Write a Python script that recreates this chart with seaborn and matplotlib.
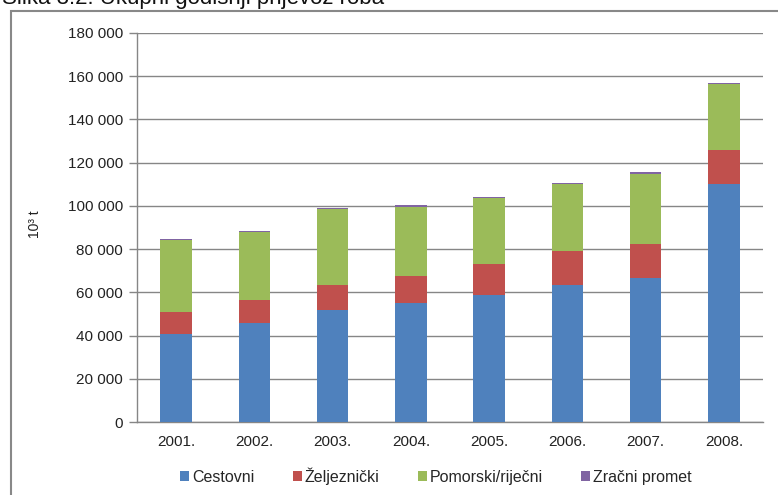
import pandas as pd
import numpy as np
import matplotlib.pyplot as plt
import seaborn as sns
from matplotlib.patches import Rectangle, Patch

# Data (10^3 t)
years = ["2001.", "2002.", "2003.", "2004.", "2005.", "2006.", "2007.", "2008."]
cestovni = [40700, 45700, 52000, 55100, 58600, 63200, 66600, 110300]
zeljeznicki = [10200, 10800, 11400, 12500, 14450, 15850, 15700, 15400]
pomorski = [33500, 31600, 35200, 32100, 30450, 31250, 32650, 30750]
zracni = [400, 400, 500, 650, 500, 500, 500, 500]

series_names = ["Cestovni", "Željeznički", "Pomorski/riječni", "Zračni promet"]
colors = ["#4F81BD", "#C0504D", "#9BBB59", "#8064A2"]

df = pd.DataFrame({"year": years, "Cestovni": cestovni, "Željeznički": zeljeznicki,
                   "Pomorski/riječni": pomorski, "Zračni promet": zracni})
cum = df[series_names].cumsum(axis=1)
cum["year"] = df["year"]

sns.set_theme(style="white")
plt.rcParams["font.family"] = ["Liberation Sans", "DejaVu Sans"]

fig = plt.figure(figsize=(7.78, 4.95), dpi=100)
ax = fig.add_axes([137 / 778, 73 / 495, 626 / 778, 389 / 495])

# stacked bars: draw cumulative totals from top layer down
for name, col in reversed(list(zip(series_names, colors))):
    sns.barplot(data=cum, x="year", y=name, color=col, width=0.4,
                saturation=1, order=years, ax=ax, zorder=3, linewidth=0)

ax.set_ylim(0, 180000)
ax.set_xlim(-0.5, len(years) - 0.5)
yt = np.arange(0, 180001, 20000)
ax.set_yticks(yt)
ax.set_yticklabels([f"{v:,}".replace(",", " ") for v in yt], fontsize=11, color="#222222")
ax.set_xticks(range(len(years)))
ax.set_xticklabels(years, fontsize=11, color="#222222")
ax.set_xticks(np.arange(-0.5, len(years), 1), minor=True)
ax.tick_params(axis="x", which="major", length=0, pad=9)
ax.tick_params(axis="x", which="minor", length=5, color="#868686", width=1)
ax.tick_params(axis="y", length=6, color="#868686", width=1, left=True, pad=4)
ax.yaxis.grid(True, color="#868686", linewidth=1, zorder=0)
ax.set_axisbelow(True)
for s in ["top", "right"]:
    ax.spines[s].set_visible(False)
for s in ["left", "bottom"]:
    ax.spines[s].set_color("#868686")
    ax.spines[s].set_linewidth(1)
ax.set_xlabel("")
ax.set_ylabel("")

fig.text(35 / 778, 1 - 224 / 495, "10³ t", rotation=90, fontsize=10,
         ha="center", va="center", color="#222222")

handles = [Patch(facecolor=c, edgecolor="none") for c in colors]
fig.legend(handles, series_names, loc="center", bbox_to_anchor=(436 / 778, 1 - 476 / 495),
           ncol=4, frameon=False, fontsize=11.5, handlelength=0.55, handleheight=0.55,
           handletextpad=0.2, columnspacing=2.4)

# outer frame and cut-off caption
fig.patches.append(Rectangle((11 / 778, -0.1), 1.2, 1 - 11 / 495 + 0.1,
                             transform=fig.transFigure, fill=False,
                             edgecolor="#888888", linewidth=1.5))
fig.text(2 / 778, 1 - 4 / 495, "Slika 3.2: Ukupni godišnji prijevoz roba",
         fontsize=16, ha="left", va="baseline", color="#111111")

plt.savefig("out.png", dpi=100)
